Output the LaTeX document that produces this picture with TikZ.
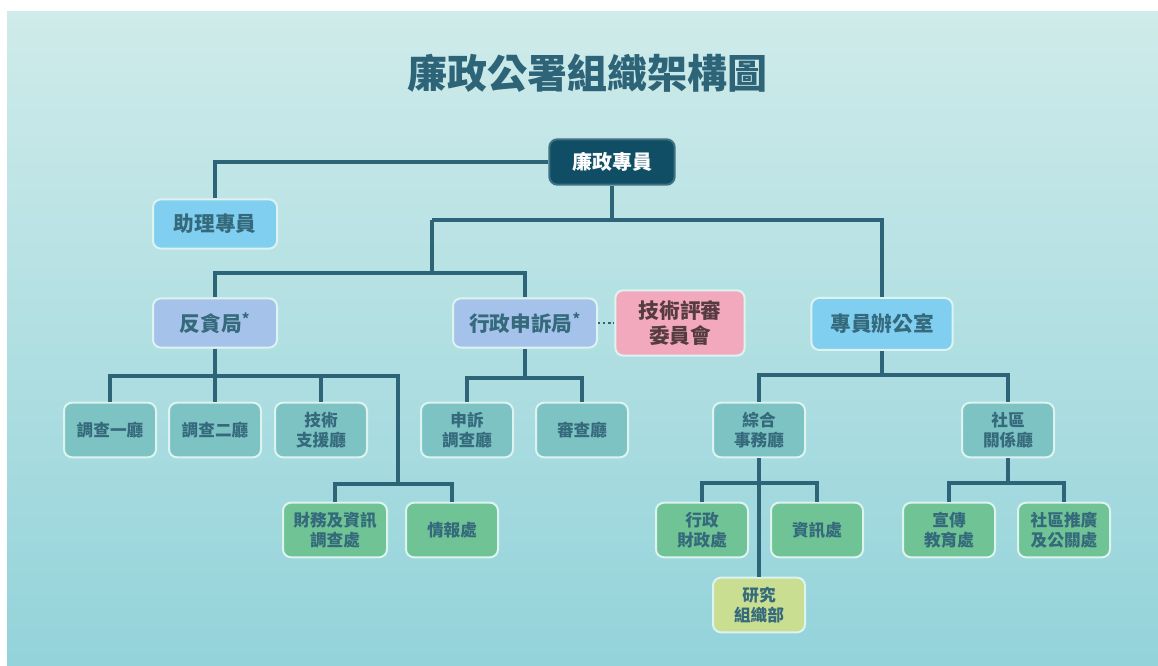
\documentclass[tikz,border=0pt]{standalone}
\usepackage{fontspec}
\setmainfont{Noto Sans CJK TC}
\usetikzlibrary{positioning}
\definecolor{bgtop}{HTML}{CFEBEA}
\definecolor{bgbot}{HTML}{93D3DA}
\definecolor{linkline}{HTML}{2E6478}
\definecolor{boxedge}{HTML}{DDF3F0}
\definecolor{boxtext}{HTML}{356A7C}
\definecolor{headfill}{HTML}{0F4E64}
\definecolor{lightblue}{HTML}{80CFF1}
\definecolor{bureaublue}{HTML}{A5C3EA}
\definecolor{reviewpink}{HTML}{F3A9BD}
\definecolor{unitteal}{HTML}{7EC3C4}
\definecolor{secgreen}{HTML}{6FC394}
\definecolor{researchlime}{HTML}{C9DE90}
\tikzstyle{connector} = [draw=linkline, line width=2.3pt]

\begin{document}
\begin{tikzpicture}[x=0.75pt,y=-0.75pt,
                      base node/.style={rounded corners=6pt, draw=boxedge, line width=1.5pt,
                                        align=center, text=boxtext, inner sep=3pt},
                      head node/.style={base node, fill=headfill, text=white, draw=headfill!80!white,
                                        minimum width=94pt, minimum height=34pt,
                                        font=\bfseries\fontsize{15}{17}\selectfont},
                      main node/.style={base node, minimum width=93pt, minimum height=37pt,
                                        font=\bfseries\fontsize{15.5}{18.5}\selectfont},
                      unit node/.style={base node, fill=unitteal, minimum width=69pt, minimum height=41pt,
                                        font=\bfseries\fontsize{12.5}{15}\selectfont},
                      section node/.style={unit node, fill=secgreen}]

        % background panel
        \useasboundingbox (0,0) rectangle (1158,666);
        \fill[white] (0,0) rectangle (1158,666);
        \shade[top color=bgtop, bottom color=bgbot] (7,12) rectangle (1158,666);

        \node[text=linkline, font=\bfseries\fontsize{30}{34}\selectfont] (title) at (587,73) {廉政公署組織架構圖};

        \node[head node] (1) at (612,162) {廉政專員};
        \node[main node, fill=lightblue] (2) at (215,224) {助理專員};
        \node[main node, fill=bureaublue] (3) at (215,323) {反貪局\textsuperscript{*}};
        \node[main node, fill=bureaublue, minimum width=108pt] (4) at (525,323) {行政申訴局\textsuperscript{*}};
        \node[main node, fill=reviewpink, text=reviewpink!35!black, minimum width=97pt, minimum height=49pt] (5) at (680,323) {技術評審\\委員會};
        \node[main node, fill=lightblue, minimum width=106pt, minimum height=39pt] (6) at (882,324) {專員辦公室};

        \node[unit node] (7) at (110,430) {調查一廳};
        \node[unit node] (8) at (215,430) {調查二廳};
        \node[unit node] (9) at (321,430) {技術\\支援廳};
        \node[section node, minimum width=78pt] (10) at (335,530) {財務及資訊\\調查處};
        \node[section node] (11) at (452,530) {情報處};

        \node[unit node] (12) at (467,430) {申訴\\調查廳};
        \node[unit node] (13) at (582,430) {審查廳};

        \node[unit node] (14) at (759,430) {綜合\\事務廳};
        \node[unit node] (15) at (1008,430) {社區\\關係廳};
        \node[section node] (16) at (702,530) {行政\\財政處};
        \node[section node] (17) at (817,530) {資訊處};
        \node[section node, fill=researchlime] (18) at (759,605) {研究\\組織部};
        \node[section node] (19) at (949,530) {宣傳\\教育處};
        \node[section node] (20) at (1064,530) {社區推廣\\及公關處};

        \coordinate (c1) at (432,220);
        \coordinate (c2) at (432,273);
        \coordinate (c3) at (398,376);
        \coordinate (c4) at (398,484);
        \coordinate (c5) at (525,378);
        \coordinate (c6) at (882,375);
        \coordinate (c7) at (759,483);
        \coordinate (c8) at (1008,483);

        \draw[connector] (1.west) -| (2.north);
        \draw[connector] (1) -- (1 |- c1);
        \draw[connector] (c1) -| (6.north);
        \draw[connector] (c1) -- (c2);
        \draw[connector] (3.north) |- (c2) -| (4.north);
        \draw[dotted, draw=linkline, line width=1.8pt] (4) -- (5);

        \draw[connector] (3) -- (3 |- c3);
        \draw[connector] (7.north) |- (c3) -- (c4);
        \draw[connector] (8.north) -- (8 |- c3);
        \draw[connector] (9.north) -- (9 |- c3);
        \draw[connector] (10.north) |- (c4) -| (11.north);

        \draw[connector] (4) -- (4 |- c5);
        \draw[connector] (12.north) |- (c5) -| (13.north);

        \draw[connector] (6) -- (6 |- c6);
        \draw[connector] (14.north) |- (c6) -| (15.north);
        \draw[connector] (14) -- (18);
        \draw[connector] (16.north) |- (c7) -| (17.north);
        \draw[connector] (15) -- (15 |- c8);
        \draw[connector] (19.north) |- (c8) -| (20.north);
\end{tikzpicture}
\end{document}
